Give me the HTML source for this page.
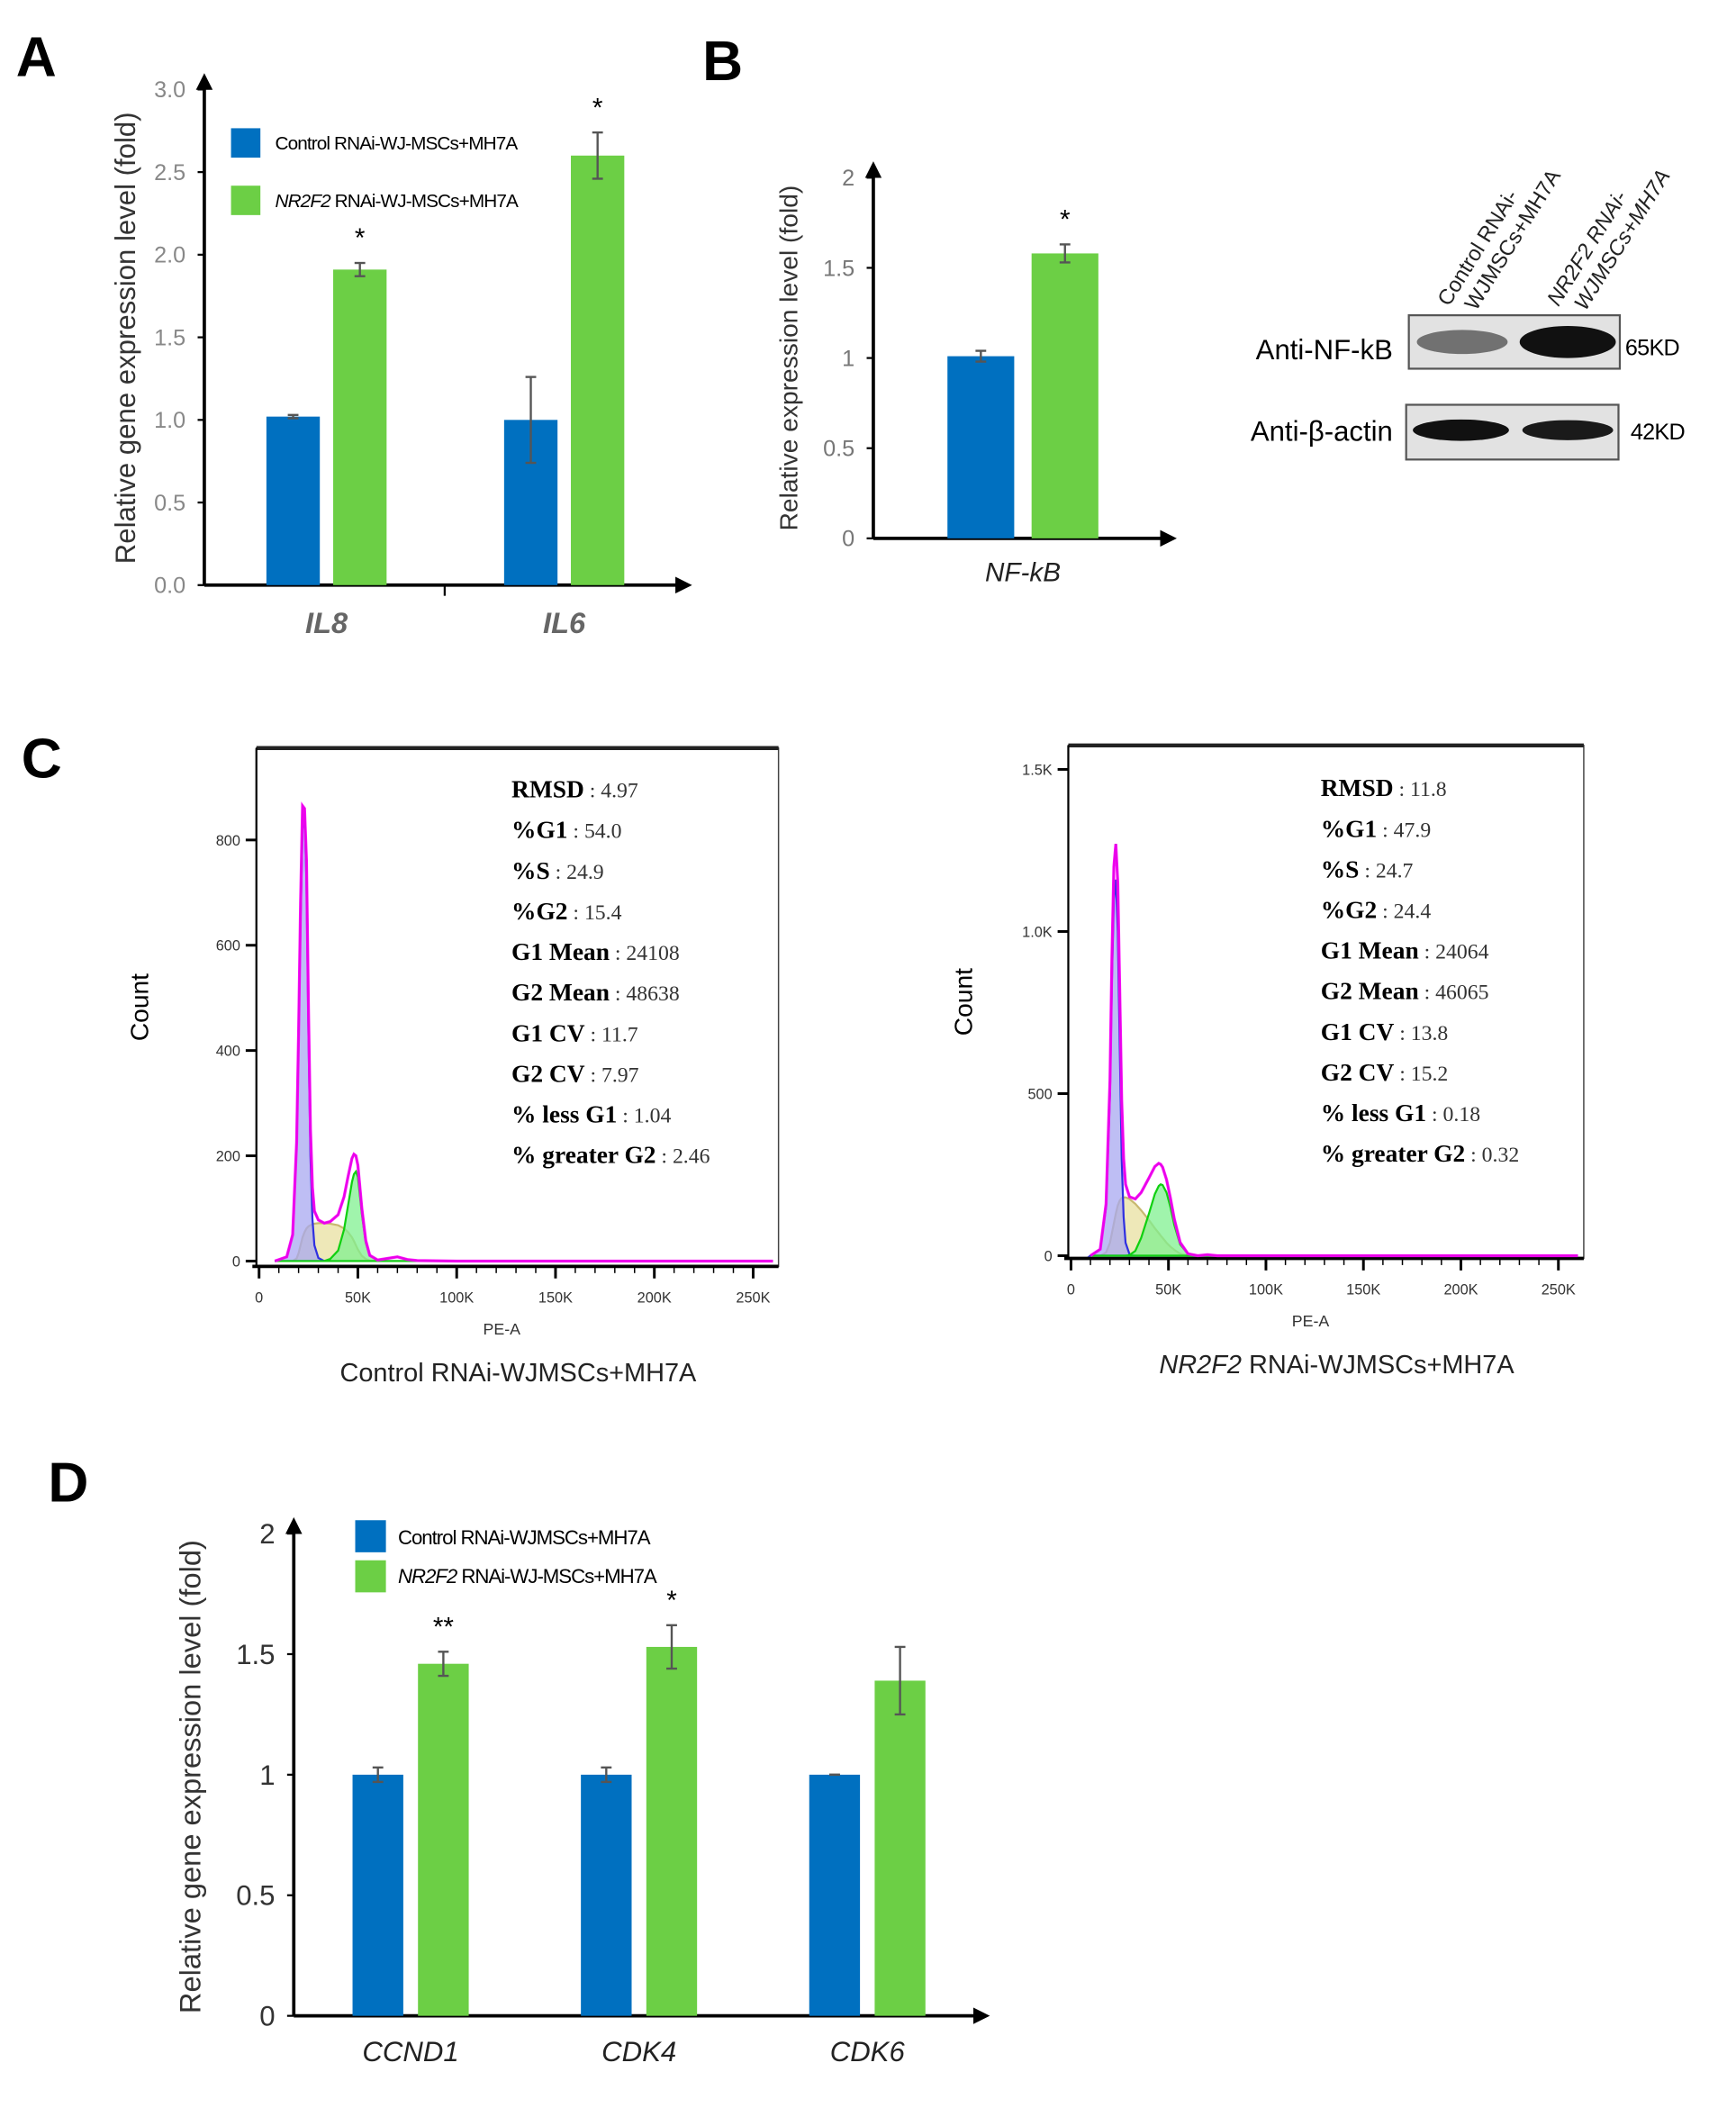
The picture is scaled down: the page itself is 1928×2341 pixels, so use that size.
<!DOCTYPE html>
<html><head><meta charset="utf-8"><style>
html,body{margin:0;padding:0;background:#fff;}
svg{display:block;}
text{font-family:"Liberation Sans",sans-serif;}
.ser{font-family:"Liberation Serif",serif;}
</style></head><body>
<svg id="fig" width="1928" height="2341" viewBox="0 0 1300 1578" preserveAspectRatio="none" xmlns="http://www.w3.org/2000/svg">
<defs>
<marker id="arr" viewBox="0 0 10 10" refX="5" refY="5" markerWidth="5" markerHeight="5" orient="auto"><path d="M0,0 L10,5 L0,10 z" fill="#000"/></marker>
</defs>
<g id="root"></g>
</svg>
<script>
// ---- Panel A data ----
const aCats = ["IL8", "IL6"];
const aCtrl = [1.02, 1.0];
const aCtrlErr = [0.01, 0.26];
const aKd = [1.91, 2.6];
const aKdErr = [0.04, 0.14];
const aStars = ["*", "*"];
const aTicks = ["0.0","0.5","1.0","1.5","2.0","2.5","3.0"];
// ---- Panel B data ----
const bCats = ["NF-kB"];
const bCtrl = [1.01];
const bCtrlErr = [0.03];
const bKd = [1.58];
const bKdErr = [0.05];
const bStars = ["*"];
const bTicks = ["0","0.5","1","1.5","2"];
// ---- Panel D data ----
const dCats = ["CCND1","CDK4","CDK6"];
const dCtrl = [1.0, 1.0, 1.0];
const dCtrlErr = [0.03, 0.03, 0.0];
const dKd = [1.46, 1.53, 1.39];
const dKdErr = [0.05, 0.09, 0.14];
const dStars = ["**","*",""];
const dTicks = ["0","0.5","1","1.5","2"];
// ---- Panel C histograms (x in K units, counts) ----
const c1X  = [8,14,17,19,20,21,22,23,24,25,26,27,28,30,33,36,40,43,45,47,48,49,50,52,54,56,60,65,70,75,80,100,150,200,260];
const c1G1 = [0,8,50,220,420,650,820,850,720,430,200,80,30,6,0,0,0,0,0,0,0,0,0,0,0,0,0,0,0,0,0,0,0,0,0];
const c1S  = [0,0,0,5,15,30,45,55,62,66,68,70,71,72,72,71,68,62,55,45,38,30,22,10,4,1,0,0,0,0,0,0,0,0,0];
const c1G2 = [0,0,0,0,0,0,0,0,0,0,0,0,0,0,0,4,20,60,105,150,165,170,160,90,35,10,2,0,0,0,0,0,0,0,0];
const c1Tot= [0,8,50,225,435,680,865,860,760,480,250,140,95,78,72,75,88,122,160,195,203,200,182,100,39,11,2,5,8,3,1,0,0,0,0];
const c2X  = [10,15,18,20,21,22,23,24,25,26,27,28,30,33,36,40,43,45,46,47,49,51,53,56,60,65,70,75,80,100,150,200,260];
const c2G1 = [0,20,150,500,850,1100,1160,1000,650,300,120,40,5,0,0,0,0,0,0,0,0,0,0,0,0,0,0,0,0,0,0,0,0];
const c2S  = [0,0,10,40,70,100,130,155,170,178,180,180,175,160,140,110,85,70,62,55,40,28,18,6,0,0,0,0,0,0,0,0,0];
const c2G2 = [0,0,0,0,0,0,0,0,0,0,0,0,2,15,55,130,190,215,220,218,195,150,95,35,6,0,0,0,0,0,0,0,0];
const c2Tot= [0,20,160,540,920,1200,1270,1150,820,480,300,220,182,175,195,240,275,285,282,273,235,178,113,41,6,0,3,0,0,0,0,0,0];
const c1Stats = [["RMSD","4.97"],["%G1","54.0"],["%S","24.9"],["%G2","15.4"],["G1 Mean","24108"],["G2 Mean","48638"],["G1 CV","11.7"],["G2 CV","7.97"],["% less G1","1.04"],["% greater G2","2.46"]];
const c2Stats = [["RMSD","11.8"],["%G1","47.9"],["%S","24.7"],["%G2","24.4"],["G1 Mean","24064"],["G2 Mean","46065"],["G1 CV","13.8"],["G2 CV","15.2"],["% less G1","0.18"],["% greater G2","0.32"]];
const c1YTicks = [0,200,400,600,800];
const c1YLabels = ["0","200","400","600","800"];
const c2YTicks = [0,500,1000,1500];
const c2YLabels = ["0","500","1.0K","1.5K"];
const cXTicks = [0,50,100,150,200,250];
const cXLabels = ["0","50K","100K","150K","200K","250K"];

const NS = "http://www.w3.org/2000/svg";
const root = document.getElementById('root');
function el(tag, attrs, parent, txt){
  const e = document.createElementNS(NS, tag);
  for (const k in attrs) e.setAttribute(k, attrs[k]);
  if (txt !== undefined) e.textContent = txt;
  (parent || root).appendChild(e);
  return e;
}
const BLUE = "#0070c0", GREEN = "#6ccf45";

function barChart(o){
  const g = el('g', {});
  
  
  const y = v => o.y0 - (v / o.vmax) * (o.y0 - o.ytop);
  // axes
  const ya = el('line', {x1:o.x0, y1:o.y0, x2:o.x0, y2:o.ytop-6, stroke:"#000", "stroke-width":2.5, "marker-end":"url(#arr)"}, g);
  
  
  const xa = el('line', {x1:o.x0, y1:o.y0, x2:o.xend, y2:o.y0, stroke:"#000", "stroke-width":2.5, "marker-end":"url(#arr)"}, g);
  
  
  o.ticks.forEach((t, i) => {
    const v = o.vmax * i / (o.ticks.length - 1);
    el('line', {x1:o.x0-5, y1:y(v), x2:o.x0, y2:y(v), stroke:"#000", "stroke-width":1.5}, g);
    const tl = el('text', {x:o.x0-14, y:y(v)+o.tfs*0.35, "text-anchor":"end", "font-size":o.tfs, fill:o.tcol}, g, t);
    
    
  });
  o.cats.forEach((c, i) => {
    const cx = o.c0 + i * o.cstep;
    const bx = cx - o.gap/2 - o.bw, gx = cx + o.gap/2;
    const b1 = el('rect', {x:bx, y:y(o.ctrl[i]), width:o.bw, height:o.y0 - y(o.ctrl[i]), fill:BLUE}, g);
    
    
    const b2 = el('rect', {x:gx, y:y(o.kd[i]), width:o.bw, height:o.y0 - y(o.kd[i]), fill:GREEN}, g);
    
    
    [[bx + o.bw/2, o.ctrl[i], o.ctrlErr[i]], [gx + o.bw/2, o.kd[i], o.kdErr[i]]].forEach(([ex, v, e]) => {
      const eg = el('g', {stroke:"#555", "stroke-width":1.6}, g);
      
      
      el('line', {x1:ex, y1:y(v+e), x2:ex, y2:y(v-e)}, eg);
      el('line', {x1:ex-4, y1:y(v+e), x2:ex+4, y2:y(v+e)}, eg);
      el('line', {x1:ex-4, y1:y(v-e), x2:ex+4, y2:y(v-e)}, eg);
    });
    if (o.stars[i]) {
      const st = el('text', {x:gx + o.bw/2, y:y(o.kd[i] + o.kdErr[i]) - 12, "text-anchor":"middle", "font-size":20}, g, o.stars[i]);
      
      
    }
    const cl = el('text', {x:cx, y:o.y0 + o.lblOff, "text-anchor":"middle", "font-size":o.cfs, "font-style":"italic", "font-weight":o.cbold?"bold":"normal", fill:o.ccol}, g, c);
    
    
  });
  const yt = el('text', {x:0, y:0, transform:`translate(${o.titleX},${o.titleY}) rotate(-90)`, "text-anchor":"middle", "font-size":o.titleFs, fill:"#333"}, g, o.title);
  
  
  return g;
}

function panelLabel(t, x, y){
  const e = el('text', {x:x, y:y, "font-size":42, "font-weight":"bold"}, root, t);
  
  
}
panelLabel("A", 12, 57);
panelLabel("B", 526, 60);
panelLabel("C", 16, 582);
panelLabel("D", 36, 1124);

// Panel A
barChart({name:"chart-a", x0:153, y0:438, ytop:67, xend:512, vmax:3, ticks:aTicks, tfs:17, tcol:"#888",
  cats:aCats, ctrl:aCtrl, ctrlErr:aCtrlErr, kd:aKd, kdErr:aKdErr, stars:aStars,
  c0:244.5, cstep:178, bw:40, gap:10, lblOff:36, cfs:22, cbold:true, ccol:"#666",
  title:"Relative gene expression level (fold)", titleX:101, titleY:253, titleFs:21});
el('line', {x1:333, y1:438, x2:333, y2:446, stroke:"#000", "stroke-width":1.5});
// legend A
(function(){
  const g = el('g', {});  
  el('rect', {x:173, y:96, width:22, height:22, fill:BLUE}, g);
  el('text', {x:206, y:112, "font-size":14, "letter-spacing":-0.6}, g, "Control RNAi-WJ-MSCs+MH7A");
  el('rect', {x:173, y:139, width:22, height:22, fill:GREEN}, g);
  const t = el('text', {x:206, y:155, "font-size":14, "letter-spacing":-0.6}, g);
  el('tspan', {"font-style":"italic"}, t, "NR2F2");
  el('tspan', {}, t, " RNAi-WJ-MSCs+MH7A");
})();

// Panel B
barChart({name:"chart-b", x0:654, y0:403, ytop:133, xend:875, vmax:2, ticks:bTicks, tfs:17, tcol:"#777",
  cats:bCats, ctrl:bCtrl, ctrlErr:bCtrlErr, kd:bKd, kdErr:bKdErr, stars:bStars,
  c0:766, cstep:0, bw:50, gap:13, lblOff:32, cfs:20, cbold:false, ccol:"#222",
  title:"Relative expression level (fold)", titleX:597, titleY:268, titleFs:19});

// Western blot
(function(){
  const g = el('g', {});  
  const l1 = el('text', {x:0, y:0, transform:"translate(1085,230) rotate(-58)", "font-size":16, fill:"#222"}, g);
  el('tspan', {x:0, dy:0}, l1, "Control RNAi-");
  el('tspan', {x:8, dy:19}, l1, "WJMSCs+MH7A");
  const l2 = el('text', {x:0, y:0, transform:"translate(1167,230) rotate(-58)", "font-size":16, "font-style":"italic", fill:"#222"}, g);
  el('tspan', {x:0, dy:0}, l2, "NR2F2 RNAi-");
  el('tspan', {x:8, dy:19}, l2, "WJMSCs+MH7A");
  el('rect', {x:1055, y:236, width:158, height:40, fill:"#e2e2e2", stroke:"#555", "stroke-width":1.5}, g);
  el('ellipse', {cx:1095, cy:256, rx:34, ry:9, fill:"#555", opacity:0.8}, g);
  el('ellipse', {cx:1174, cy:256, rx:36, ry:12, fill:"#111"}, g);
  el('rect', {x:1053, y:303, width:159, height:41, fill:"#e2e2e2", stroke:"#555", "stroke-width":1.5}, g);
  el('ellipse', {cx:1094, cy:322, rx:36, ry:8, fill:"#111"}, g);
  el('ellipse', {cx:1174, cy:322, rx:34, ry:7.5, fill:"#1a1a1a"}, g);
  el('text', {x:1043, y:269, "text-anchor":"end", "font-size":21}, g, "Anti-NF-kB");
  el('text', {x:1043, y:330, "text-anchor":"end", "font-size":21}, g, "Anti-β-actin");
  el('text', {x:1217, y:266, "font-size":17, "letter-spacing":-0.5}, g, "65KD");
  el('text', {x:1221, y:329, "font-size":17, "letter-spacing":-0.5}, g, "42KD");
})();

// Panel C histograms
function histo(o){
  const g = el('g', {});  
  const sx = v => o.xl + (v / 50) * o.px50;
  const sy = v => o.y0 - v * o.pyc;
  el('rect', {x:o.bx, y:o.by, width:o.bw, height:o.bh, fill:"none", stroke:"#444", "stroke-width":1}, g);
  el('line', {x1:o.bx, y1:o.by, x2:o.bx+o.bw, y2:o.by, stroke:"#222", "stroke-width":3}, g);
  el('line', {x1:o.bx-3, y1:o.by+o.bh, x2:o.bx+o.bw, y2:o.by+o.bh, stroke:"#000", "stroke-width":2.5}, g);
  el('line', {x1:o.bx, y1:o.by, x2:o.bx, y2:o.by+o.bh, stroke:"#000", "stroke-width":1.5}, g);
  o.yt.forEach((v, i) => {
    el('line', {x1:o.bx-8, y1:sy(v), x2:o.bx, y2:sy(v), stroke:"#000", "stroke-width":2}, g);
    const t = el('text', {x:o.bx-12, y:sy(v)+4, "text-anchor":"end", "font-size":11, fill:"#333"}, g, o.yl[i]);
     
  });
  cXTicks.forEach((v, i) => {
    el('line', {x1:sx(v), y1:o.by+o.bh, x2:sx(v), y2:o.by+o.bh+9, stroke:"#000", "stroke-width":2}, g);
    const t = el('text', {x:sx(v), y:o.by+o.bh+27, "text-anchor":"middle", "font-size":11, fill:"#333"}, g, cXLabels[i]);
     
  });
  for (let v = 10; v < 260; v += 10) if (v % 50) el('line', {x1:sx(v), y1:o.by+o.bh, x2:sx(v), y2:o.by+o.bh+5, stroke:"#000", "stroke-width":1}, g);
  const area = (arr, fill, stroke, name) => {
    let d = `M${sx(o.xs[0])},${sy(0)}`;
    o.xs.forEach((x, i) => d += ` L${sx(x)},${sy(arr[i])}`);
    d += ` L${sx(o.xs[o.xs.length-1])},${sy(0)} Z`;
    const p = el('path', {d:d, fill:fill, stroke:stroke, "stroke-width":1.5, "fill-opacity":0.75}, g);
     
  };
  area(o.s, "#e8e0a0", "#c8b870", "s-phase-fit");
  area(o.g1, "#a8a8f0", "#3030e0", "g1-fit");
  area(o.g2, "#80f090", "#10d010", "g2-fit");
  let d = "";
  o.xs.forEach((x, i) => d += (i ? " L" : "M") + sx(x) + "," + sy(o.tot[i]));
  const l = el('path', {d:d, fill:"none", stroke:"#222", "stroke-width":1.5}, g);
   
  const m = el('path', {d:d, fill:"none", stroke:"#ff00ff", "stroke-width":2.2, opacity:0.9}, g);
   
  o.stats.forEach((s, i) => {
    const t = el('text', {x:o.stx, y:o.sty + i*30.4, "font-size":18.5, "class":"ser"}, g);
    el('tspan', {"font-weight":"bold"}, t, s[0]);
    el('tspan', {"font-size":16, fill:"#333"}, t, " : " + s[1]);
  });
  el('text', {x:o.bx + o.bw*0.47, y:o.by+o.bh+51, "text-anchor":"middle", "font-size":12, fill:"#333"}, g, "PE-A");
  el('text', {x:0, y:0, transform:`translate(${o.cntX},${o.by+o.bh/2}) rotate(-90)`, "text-anchor":"middle", "font-size":19}, g, "Count");
  const ti = el('text', {x:o.tx, y:o.by+o.bh+86, "text-anchor":"middle", "font-size":19.5, fill:"#222"}, g);
  if (o.it) el('tspan', {"font-style":"italic"}, ti, o.it);
  el('tspan', {}, ti, o.title);
}
histo({name:"histogram-control", bx:192, by:560, bw:391, bh:388, xl:194, px50:74, y0:944, pyc:0.394,
  yt:c1YTicks, yl:c1YLabels, xs:c1X, g1:c1G1, s:c1S, g2:c1G2, tot:c1Tot, stats:c1Stats, stx:383, sty:597,
  cntX:111, tx:388, it:"", title:"Control RNAi-WJMSCs+MH7A"});
histo({name:"histogram-nr2f2", bx:800, by:558, bw:386, bh:384, xl:802, px50:73, y0:940, pyc:0.2427,
  yt:c2YTicks, yl:c2YLabels, xs:c2X, g1:c2G1, s:c2S, g2:c2G2, tot:c2Tot, stats:c2Stats, stx:989, sty:596,
  cntX:728, tx:1001, it:"NR2F2", title:" RNAi-WJMSCs+MH7A"});

// Panel D
barChart({name:"chart-d", x0:220, y0:1509, ytop:1148, xend:735, vmax:2, ticks:dTicks, tfs:21, tcol:"#333",
  cats:dCats, ctrl:dCtrl, ctrlErr:dCtrlErr, kd:dKd, kdErr:dKdErr, stars:dStars,
  c0:307.5, cstep:171, bw:38, gap:11, lblOff:34, cfs:21, cbold:false, ccol:"#222",
  title:"Relative gene expression level (fold)", titleX:150, titleY:1330, titleFs:22});
(function(){
  const g = el('g', {});  
  el('rect', {x:266, y:1138, width:23, height:24, fill:BLUE}, g);
  el('text', {x:298, y:1156, "font-size":15, "letter-spacing":-0.7}, g, "Control RNAi-WJMSCs+MH7A");
  el('rect', {x:266, y:1168, width:23, height:24, fill:GREEN}, g);
  const t = el('text', {x:298, y:1185, "font-size":15, "letter-spacing":-0.7}, g);
  el('tspan', {"font-style":"italic"}, t, "NR2F2");
  el('tspan', {}, t, " RNAi-WJ-MSCs+MH7A");
})();
</script>
</body></html>
